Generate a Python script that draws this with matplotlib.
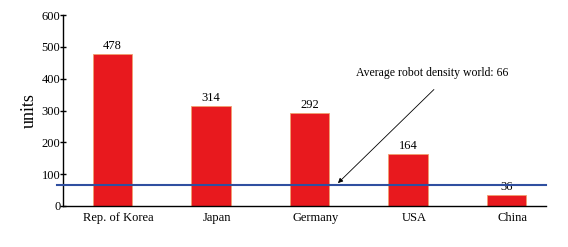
import matplotlib
matplotlib.use('Agg')
import matplotlib.pyplot as plt
import numpy as np

plt.rcParams['font.family'] = ['Liberation Serif', 'DejaVu Serif']

# ── Data ────────────────────────────────────────────────────────────
countries = ['Rep. of Korea', 'Japan', 'Germany', 'USA', 'China']
density = [478, 314, 292, 164, 36]
world_avg = 66

# ── Plot ────────────────────────────────────────────────────────────
fig = plt.figure(figsize=(5.68, 2.47), dpi=100)
ax = fig.add_axes([0.111, 0.166, 0.850, 0.773])

x = np.arange(len(countries))
ax.bar(x, density, width=0.4, color='#e8191e', edgecolor='#f0a070', linewidth=0.6, zorder=2)
for xi, v in zip(x, density):
    ax.text(xi, v + 5, str(v), ha='center', va='bottom', fontsize=9)

ax.axhline(world_avg, xmin=-0.012, color='#2f4fa0', linewidth=1.5, clip_on=False, zorder=3)
ax.annotate(f'Average robot density world: {world_avg}',
            xy=(2.29, 72), xytext=(3.25, 418),
            ha='center', va='center', fontsize=8.5,
            arrowprops=dict(arrowstyle='-|>', color='black', lw=0.6,
                            mutation_scale=7, shrinkA=8, shrinkB=0,
                            relpos=(0.58, 0)))

ax.set_xlim(-0.5, 4.4)
ax.set_ylim(0, 600)
ax.set_yticks(range(0, 601, 100))
ax.set_xticks(x + 0.06)
ax.set_xticklabels(countries, fontsize=9)
ax.tick_params(axis='x', length=0, pad=4)
ax.tick_params(axis='y', labelsize=9, direction='inout', length=4, width=1, pad=0)
ax.set_ylabel('units', fontsize=13, labelpad=3)

for s in ['top', 'right']:
    ax.spines[s].set_visible(False)
ax.spines['left'].set_linewidth(1)
ax.spines['bottom'].set_linewidth(1)

plt.savefig('out.png', dpi=100)
